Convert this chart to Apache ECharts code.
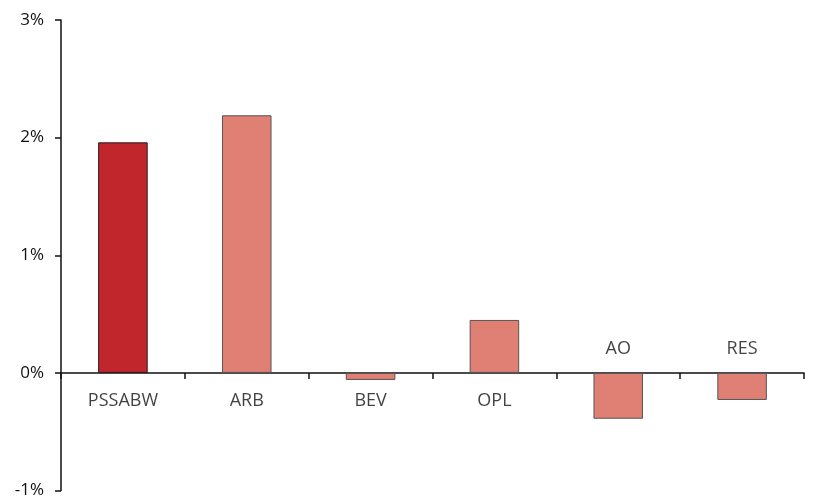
<!DOCTYPE html>
<html>
<head>
<meta charset="utf-8">
<script src="https://cdn.jsdelivr.net/npm/echarts@6/dist/echarts.min.js"></script>
<style>
html, body { margin: 0; padding: 0; background: #fff; }
#chart { width: 814px; height: 499px; }
</style>
</head>
<body>
<div id="chart"></div>
<script>
var categories = ["PSSABW", "ARB", "BEV", "OPL", "AO", "RES"];
var values = [1.96, 2.19, -0.06, 0.45, -0.39, -0.23];
// label above the zero line for these ones
var labelAbove = ["AO", "RES"];

var chart = echarts.init(document.getElementById("chart"));

var barData = [];
var labelData = [];
for (var i = 0; i < categories.length; i++) {
	var first = i == 0;
	barData.push({
		value: values[i],
		itemStyle: {
			color: first ? "#c1262c" : "#e07f74",
			borderColor: first ? "#2a1a1a" : "#555",
			borderWidth: 1
		}
	});
	var above = labelAbove.indexOf(categories[i]) >= 0;
	labelData.push({
		value: [categories[i], 0],
		label: {
			position: above ? "top" : "bottom",
			distance: above ? 15 : 19
		}
	});
}

chart.setOption({
	animation: false,
	grid: { left: 61, right: 10, top: 20, bottom: 7 },
	xAxis: {
		type: "category",
		data: categories,
		axisLine: { onZero: true, lineStyle: { color: "#111", width: 1.5 } },
		axisTick: { show: true, length: 6, lineStyle: { color: "#111", width: 1.5 } },
		axisLabel: { show: false }
	},
	yAxis: {
		type: "value",
		min: -1,
		max: 3,
		interval: 1,
		axisLine: { show: true, lineStyle: { color: "#111", width: 1.5 } },
		axisTick: { show: true, length: 6, lineStyle: { color: "#111", width: 1.5 } },
		splitLine: { show: false },
		axisLabel: {
			margin: 17,
			color: "#111",
			fontFamily: "Open Sans",
			fontSize: 17,
			formatter: function(v) { return v + "%"; }
		}
	},
	series: [{
		type: "bar",
		data: barData,
		barWidth: "40%"
	}, {
		type: "scatter",
		data: labelData,
		symbolSize: 0,
		silent: true,
		label: {
			show: true,
			color: "#111",
			fontFamily: "Open Sans",
			fontSize: 18,
			formatter: function(p) { return p.value[0]; }
		}
	}]
});
</script>
</body>
</html>
